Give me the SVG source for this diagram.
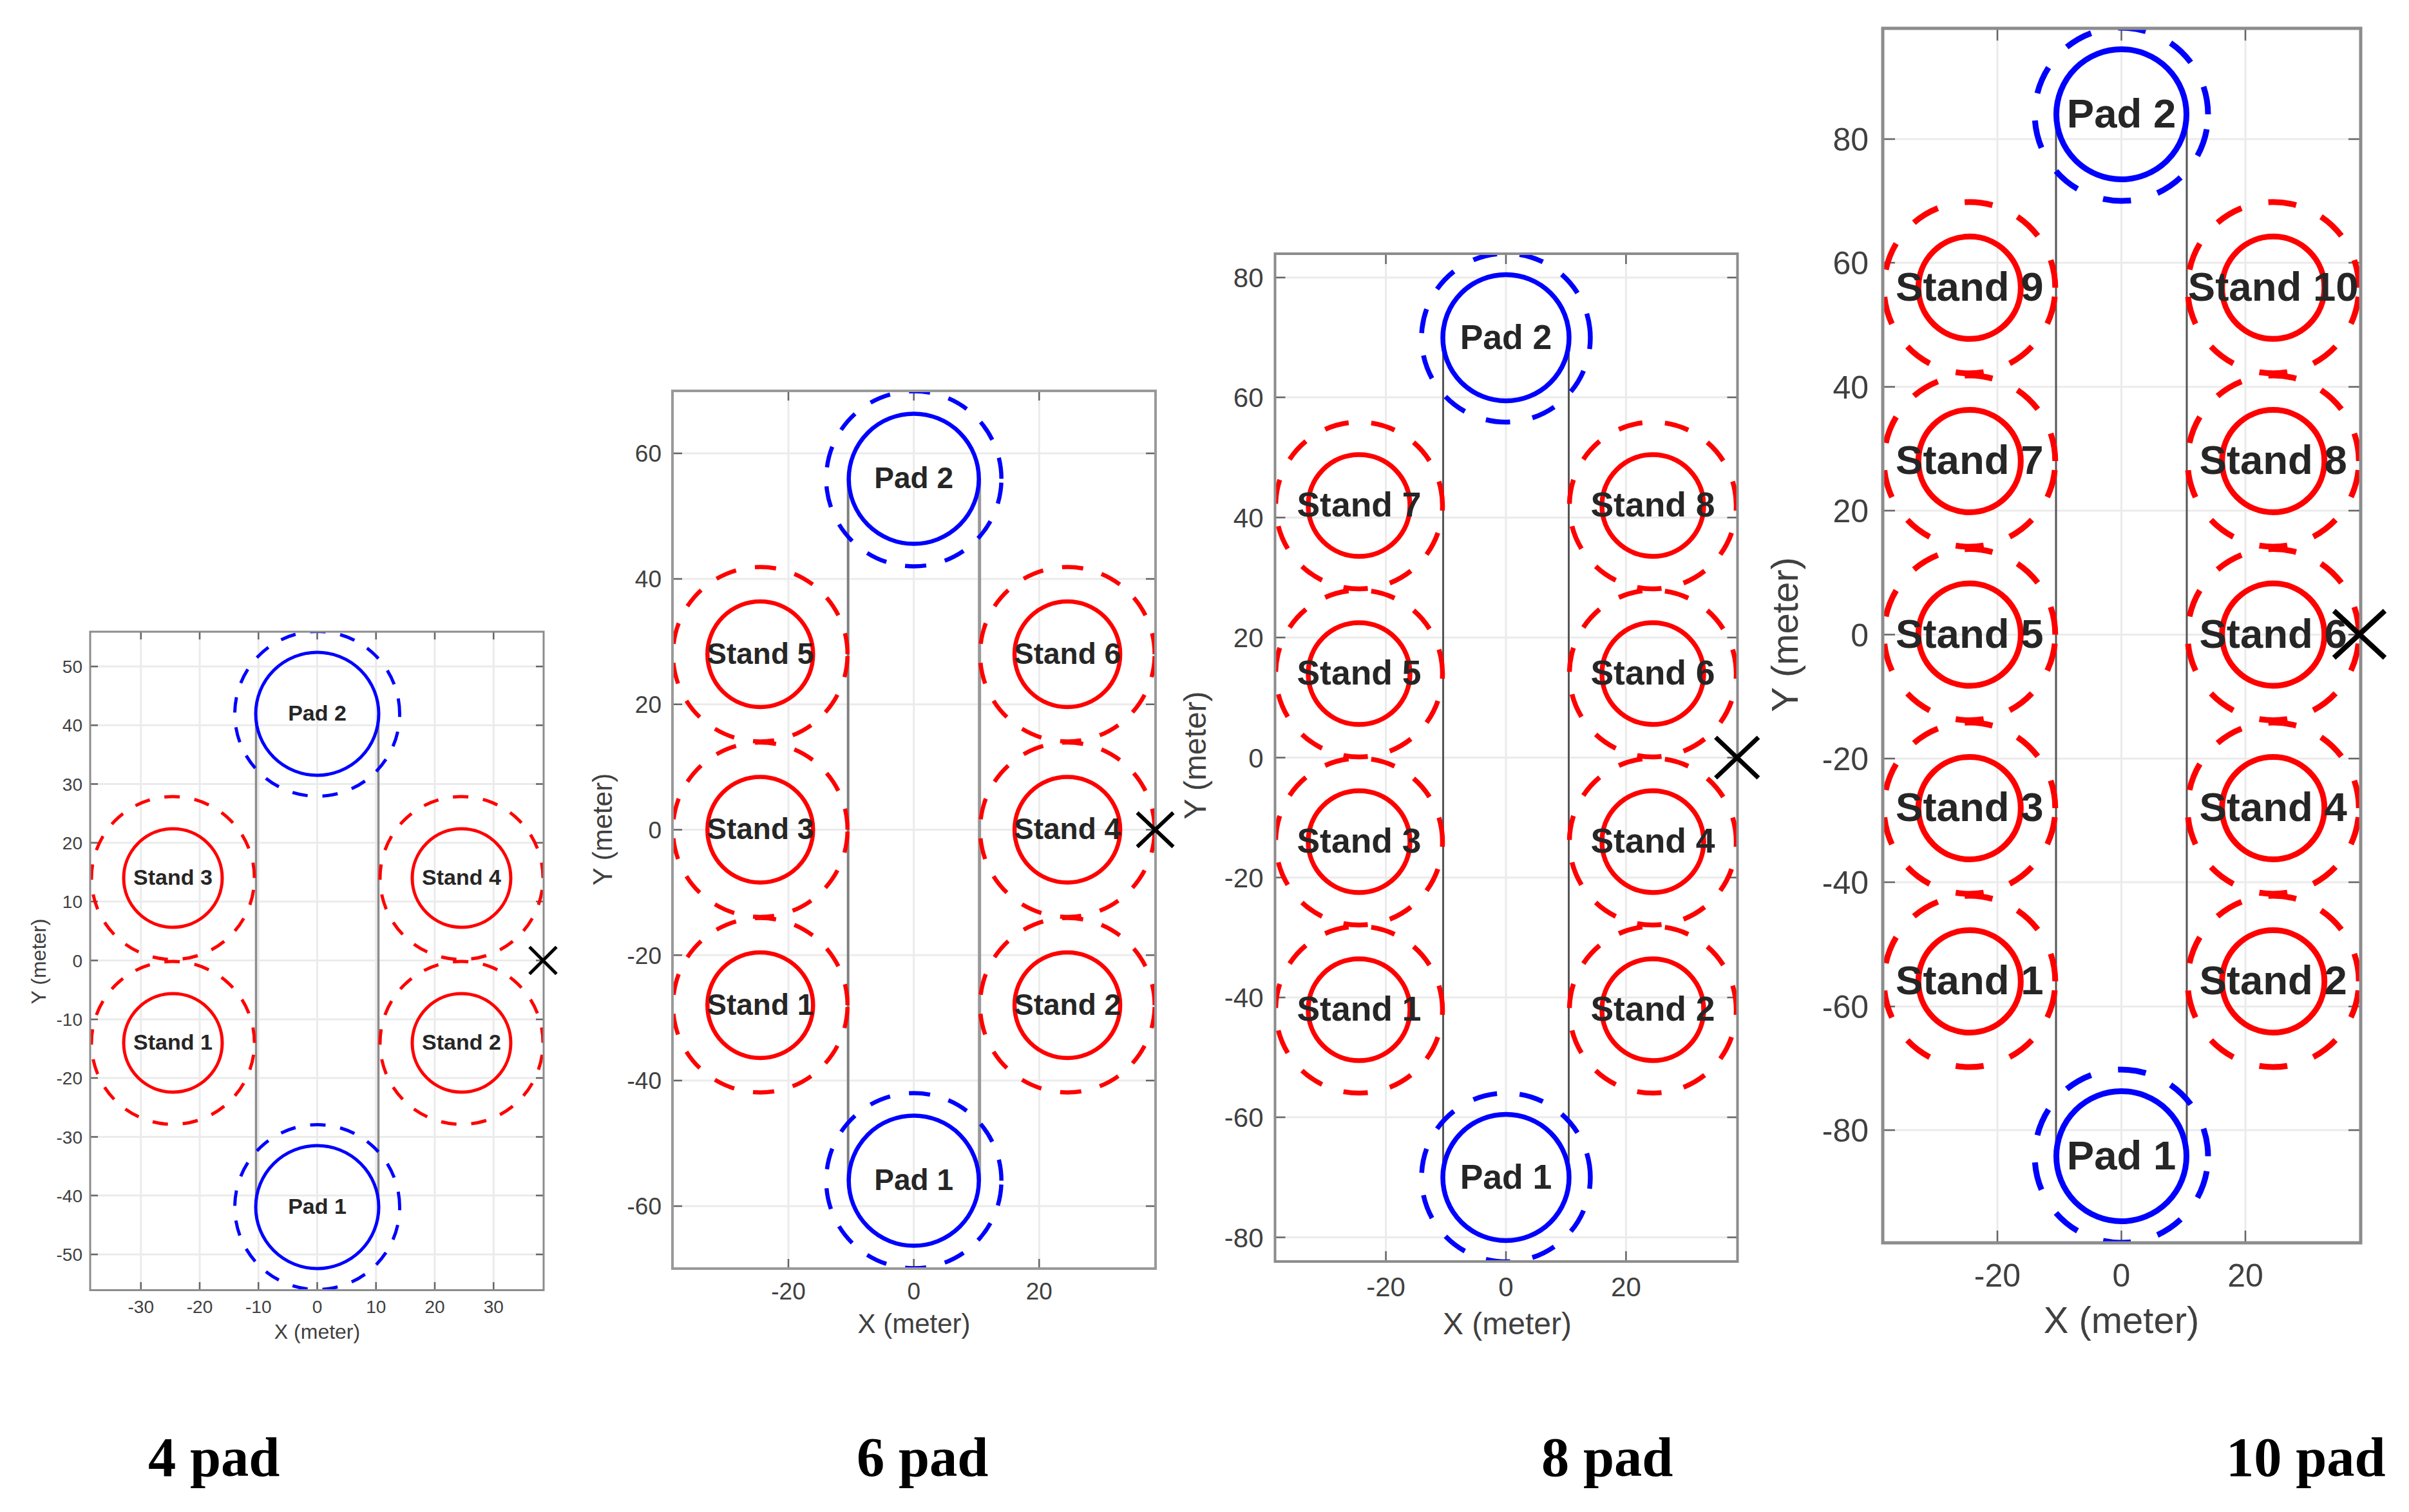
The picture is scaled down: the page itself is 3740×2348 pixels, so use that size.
<svg xmlns="http://www.w3.org/2000/svg" width="3740" height="2348" viewBox="0 0 3740 2348">
<style>
text{font-family:"Liberation Sans",Arial,sans-serif;fill:#404040}
.n{font-weight:700;fill:#262626;text-anchor:middle;transform:translateY(-.04em)}
.ty{text-anchor:end}.tx,.al{text-anchor:middle}
.cap{font-family:"Liberation Serif","Times New Roman",serif;font-weight:700;font-size:86.5px;fill:#000}
.grid{fill:none;stroke:#ebebeb;stroke-width:3}
.tick{fill:none;stroke:#666;stroke-width:2.5}
.box{fill:none;stroke:#8c8c8c;stroke-width:4}
.cor{fill:none;stroke:#555;stroke-width:3}
.ri,.ro{fill:none}
.ro{transform-box:fill-box;transform-origin:center;transform:scaleY(-1)}
.r{stroke:#f00}.b{stroke:#00f}
.x{fill:none;stroke:#000}
.p1 .n{font-size:34px}.p1 .tx,.p1 .ty{font-size:28px}.p1 .al{font-size:32px}.p1 circle{stroke-width:5}.p1 .ro{stroke-dasharray:24 23}.p1 .cor{stroke:#8c8c8c;stroke-width:3.5}.p1 .box{stroke-width:3}
.p2 .n{font-size:46px}.p2 .tx,.p2 .ty{font-size:37px}.p2 .al{font-size:42px}.p2 circle{stroke-width:6.5}.p2 .ro{stroke-dasharray:33 29.7}.p2 .cor{stroke:#808080;stroke-width:4}.p2 .box{stroke:#999}
.p3 .n{font-size:53.5px}.p3 .tx,.p3 .ty{font-size:42px}.p3 .al{font-size:48px}.p3 circle{stroke-width:7.5}.p3 .ro{stroke-dasharray:38 35.2}
.p4 .n{font-size:63.5px}.p4 .tx,.p4 .ty{font-size:50px}.p4 .al{font-size:58px}.p4 circle{stroke-width:9}.p4 .ro{stroke-dasharray:43.7 42.7}.p4 .box{stroke-width:5}
</style>
<defs>
<clipPath id="c1"><rect x="140" y="981" width="704" height="1022.5"/></clipPath>
<clipPath id="c2"><rect x="1044" y="607" width="750" height="1363"/></clipPath>
<clipPath id="c3"><rect x="1979.5" y="394" width="718" height="1565"/></clipPath>
<clipPath id="c4"><rect x="2923" y="44" width="742" height="1886"/></clipPath>
</defs>

<g id="panel-4-pad" class="p1">
<path class="grid" d="M218.75 981V2003M310 981V2003M401.25 981V2003M492.5 981V2003M583.75 981V2003M675 981V2003M766.25 981V2003M140 1035H844M140 1126.25H844M140 1217.5H844M140 1308.75H844M140 1400H844M140 1491.5H844M140 1583H844M140 1674H844M140 1765.5H844M140 1856.5H844M140 1948H844"/>
<path class="tick" d="M218.75 2003v-12M310 2003v-12M401.25 2003v-12M492.5 2003v-12M583.75 2003v-12M675 2003v-12M766.25 2003v-12M218.75 981v12M310 981v12M401.25 981v12M492.5 981v12M583.75 981v12M675 981v12M766.25 981v12M140 1035h12M140 1126.25h12M140 1217.5h12M140 1308.75h12M140 1400h12M140 1491.5h12M140 1583h12M140 1674h12M140 1765.5h12M140 1856.5h12M140 1948h12M844 1035h-12M844 1126.25h-12M844 1217.5h-12M844 1308.75h-12M844 1400h-12M844 1491.5h-12M844 1583h-12M844 1674h-12M844 1765.5h-12M844 1856.5h-12M844 1948h-12"/>
<g id="p1-connectors"><path class="cor" d="M397.5 1108.5V1874.5M587.5 1108.5V1874.5"/></g>
<g clip-path="url(#c1)">
<g id="p1-pad-2"><circle class="ri b" cx="492.5" cy="1108.5" r="95.5"/><circle class="ro b" cx="492.5" cy="1108.5" r="128"/><text class="n" x="492.5" y="1108.5" dy=".36em">Pad 2</text></g>
<g id="p1-pad-1"><circle class="ri b" cx="492.5" cy="1874.5" r="95.5"/><circle class="ro b" cx="492.5" cy="1874.5" r="128"/><text class="n" x="492.5" y="1874.5" dy=".36em">Pad 1</text></g>
<g id="p1-stand-3"><circle class="ri r" cx="268.5" cy="1363.5" r="76.5"/><circle class="ro r" cx="268.5" cy="1363.5" r="126.5"/><text class="n" x="268.5" y="1363.5" dy=".36em">Stand 3</text></g>
<g id="p1-stand-4"><circle class="ri r" cx="716.5" cy="1363.5" r="76.5"/><circle class="ro r" cx="716.5" cy="1363.5" r="126.5"/><text class="n" x="716.5" y="1363.5" dy=".36em">Stand 4</text></g>
<g id="p1-stand-1"><circle class="ri r" cx="268.5" cy="1619.5" r="76.5"/><circle class="ro r" cx="268.5" cy="1619.5" r="126.5"/><text class="n" x="268.5" y="1619.5" dy=".36em">Stand 1</text></g>
<g id="p1-stand-2"><circle class="ri r" cx="716.5" cy="1619.5" r="76.5"/><circle class="ro r" cx="716.5" cy="1619.5" r="126.5"/><text class="n" x="716.5" y="1619.5" dy=".36em">Stand 2</text></g>
</g>
<rect class="box" x="140" y="981" width="704" height="1022.5"/>
<path id="p1-x" class="x" stroke-width="5" d="M822 1470.5L864 1512.5M822 1512.5L864 1470.5"/>
<g>
<text class="ty" x="128" y="1035" dy=".36em">50</text><text class="ty" x="128" y="1126.25" dy=".36em">40</text><text class="ty" x="128" y="1217.5" dy=".36em">30</text><text class="ty" x="128" y="1308.75" dy=".36em">20</text><text class="ty" x="128" y="1400" dy=".36em">10</text><text class="ty" x="128" y="1491.5" dy=".36em">0</text><text class="ty" x="128" y="1583" dy=".36em">-10</text><text class="ty" x="128" y="1674" dy=".36em">-20</text><text class="ty" x="128" y="1765.5" dy=".36em">-30</text><text class="ty" x="128" y="1856.5" dy=".36em">-40</text><text class="ty" x="128" y="1948" dy=".36em">-50</text>
<text class="tx" x="218.75" y="2028.5" dy=".36em">-30</text><text class="tx" x="310" y="2028.5" dy=".36em">-20</text><text class="tx" x="401.25" y="2028.5" dy=".36em">-10</text><text class="tx" x="492.5" y="2028.5" dy=".36em">0</text><text class="tx" x="583.75" y="2028.5" dy=".36em">10</text><text class="tx" x="675" y="2028.5" dy=".36em">20</text><text class="tx" x="766.25" y="2028.5" dy=".36em">30</text>
<text class="al" x="492.5" y="2067" dy=".36em">X (meter)</text>
<text class="al" transform="rotate(-90 59 1493)" x="59" y="1493" dy=".36em">Y (meter)</text>
</g>
</g>

<g id="panel-6-pad" class="p2">
<path class="grid" d="M1224 607V1970M1418.7 607V1970M1613.3 607V1970M1044 704H1794M1044 899H1794M1044 1093.7H1794M1044 1288.5H1794M1044 1483.3H1794M1044 1678H1794M1044 1873H1794"/>
<path class="tick" d="M1224 1970v-15M1418.7 1970v-15M1613.3 1970v-15M1224 607v15M1418.7 607v15M1613.3 607v15M1044 704h15M1044 899h15M1044 1093.7h15M1044 1288.5h15M1044 1483.3h15M1044 1678h15M1044 1873h15M1794 704h-15M1794 899h-15M1794 1093.7h-15M1794 1288.5h-15M1794 1483.3h-15M1794 1678h-15M1794 1873h-15"/>
<g id="p2-connectors"><path class="cor" d="M1316.7 743.5V1833.5"/><path class="cor" style="stroke:#999;stroke-width:5" d="M1520.7 743.5V1833.5"/></g>
<g clip-path="url(#c2)">
<g id="p2-pad-2"><circle class="ri b" cx="1418.7" cy="743.5" r="101"/><circle class="ro b" cx="1418.7" cy="743.5" r="136"/><text class="n" x="1418.7" y="743.5" dy=".36em">Pad 2</text></g>
<g id="p2-pad-1"><circle class="ri b" cx="1418.7" cy="1833.5" r="101"/><circle class="ro b" cx="1418.7" cy="1833.5" r="136"/><text class="n" x="1418.7" y="1833.5" dy=".36em">Pad 1</text></g>
<g id="p2-stand-5"><circle class="ri r" cx="1180.3" cy="1016" r="82"/><circle class="ro r" cx="1180.3" cy="1016" r="135.5"/><text class="n" x="1180.3" y="1016" dy=".36em">Stand 5</text></g>
<g id="p2-stand-6"><circle class="ri r" cx="1657.1" cy="1016" r="82"/><circle class="ro r" cx="1657.1" cy="1016" r="135.5"/><text class="n" x="1657.1" y="1016" dy=".36em">Stand 6</text></g>
<g id="p2-stand-3"><circle class="ri r" cx="1180.3" cy="1288.5" r="82"/><circle class="ro r" cx="1180.3" cy="1288.5" r="135.5"/><text class="n" x="1180.3" y="1288.5" dy=".36em">Stand 3</text></g>
<g id="p2-stand-4"><circle class="ri r" cx="1657.1" cy="1288.5" r="82"/><circle class="ro r" cx="1657.1" cy="1288.5" r="135.5"/><text class="n" x="1657.1" y="1288.5" dy=".36em">Stand 4</text></g>
<g id="p2-stand-1"><circle class="ri r" cx="1180.3" cy="1561" r="82"/><circle class="ro r" cx="1180.3" cy="1561" r="135.5"/><text class="n" x="1180.3" y="1561" dy=".36em">Stand 1</text></g>
<g id="p2-stand-2"><circle class="ri r" cx="1657.1" cy="1561" r="82"/><circle class="ro r" cx="1657.1" cy="1561" r="135.5"/><text class="n" x="1657.1" y="1561" dy=".36em">Stand 2</text></g>
</g>
<rect class="box" x="1044" y="607" width="750" height="1363"/>
<path id="p2-x" class="x" stroke-width="6" d="M1765.5 1262L1821.5 1315M1765.5 1315L1821.5 1262"/>
<g>
<text class="ty" x="1027" y="704" dy=".36em">60</text><text class="ty" x="1027" y="899" dy=".36em">40</text><text class="ty" x="1027" y="1093.7" dy=".36em">20</text><text class="ty" x="1027" y="1288.5" dy=".36em">0</text><text class="ty" x="1027" y="1483.3" dy=".36em">-20</text><text class="ty" x="1027" y="1678" dy=".36em">-40</text><text class="ty" x="1027" y="1873" dy=".36em">-60</text>
<text class="tx" x="1224" y="2005" dy=".36em">-20</text><text class="tx" x="1418.7" y="2005" dy=".36em">0</text><text class="tx" x="1613.3" y="2005" dy=".36em">20</text>
<text class="al" x="1419" y="2055" dy=".36em">X (meter)</text>
<text class="al" transform="rotate(-90 935 1288)" x="935" y="1288" dy=".36em">Y (meter)</text>
</g>
</g>

<g id="panel-8-pad" class="p3">
<path class="grid" d="M2151.6 394V1959M2338 394V1959M2524.4 394V1959M1979.5 431H2697.5M1979.5 617H2697.5M1979.5 803.7H2697.5M1979.5 990H2697.5M1979.5 1176.5H2697.5M1979.5 1362.7H2697.5M1979.5 1549H2697.5M1979.5 1735H2697.5M1979.5 1921.6H2697.5"/>
<path class="tick" d="M2151.6 1959v-16M2338 1959v-16M2524.4 1959v-16M2151.6 394v16M2338 394v16M2524.4 394v16M1979.5 431h16M1979.5 617h16M1979.5 803.7h16M1979.5 990h16M1979.5 1176.5h16M1979.5 1362.7h16M1979.5 1549h16M1979.5 1735h16M1979.5 1921.6h16M2697.5 431h-16M2697.5 617h-16M2697.5 803.7h-16M2697.5 990h-16M2697.5 1176.5h-16M2697.5 1362.7h-16M2697.5 1549h-16M2697.5 1735h-16M2697.5 1921.6h-16"/>
<g id="p3-connectors"><path class="cor" d="M2240.5 524.5V1828.5M2435.5 524.5V1828.5"/></g>
<g clip-path="url(#c3)">
<g id="p3-pad-2"><circle class="ri b" cx="2338" cy="524.5" r="98"/><circle class="ro b" cx="2338" cy="524.5" r="131"/><text class="n" x="2338" y="524.5" dy=".36em">Pad 2</text></g>
<g id="p3-pad-1"><circle class="ri b" cx="2338" cy="1828.5" r="98"/><circle class="ro b" cx="2338" cy="1828.5" r="131"/><text class="n" x="2338" y="1828.5" dy=".36em">Pad 1</text></g>
<g id="p3-stand-7"><circle class="ri r" cx="2110" cy="785" r="79"/><circle class="ro r" cx="2110" cy="785" r="129.5"/><text class="n" x="2110" y="785" dy=".36em">Stand 7</text></g>
<g id="p3-stand-8"><circle class="ri r" cx="2566" cy="785" r="79"/><circle class="ro r" cx="2566" cy="785" r="129.5"/><text class="n" x="2566" y="785" dy=".36em">Stand 8</text></g>
<g id="p3-stand-5"><circle class="ri r" cx="2110" cy="1046" r="79"/><circle class="ro r" cx="2110" cy="1046" r="129.5"/><text class="n" x="2110" y="1046" dy=".36em">Stand 5</text></g>
<g id="p3-stand-6"><circle class="ri r" cx="2566" cy="1046" r="79"/><circle class="ro r" cx="2566" cy="1046" r="129.5"/><text class="n" x="2566" y="1046" dy=".36em">Stand 6</text></g>
<g id="p3-stand-3"><circle class="ri r" cx="2110" cy="1307" r="79"/><circle class="ro r" cx="2110" cy="1307" r="129.5"/><text class="n" x="2110" y="1307" dy=".36em">Stand 3</text></g>
<g id="p3-stand-4"><circle class="ri r" cx="2566" cy="1307" r="79"/><circle class="ro r" cx="2566" cy="1307" r="129.5"/><text class="n" x="2566" y="1307" dy=".36em">Stand 4</text></g>
<g id="p3-stand-1"><circle class="ri r" cx="2110" cy="1568" r="79"/><circle class="ro r" cx="2110" cy="1568" r="129.5"/><text class="n" x="2110" y="1568" dy=".36em">Stand 1</text></g>
<g id="p3-stand-2"><circle class="ri r" cx="2566" cy="1568" r="79"/><circle class="ro r" cx="2566" cy="1568" r="129.5"/><text class="n" x="2566" y="1568" dy=".36em">Stand 2</text></g>
</g>
<rect class="box" x="1979.5" y="394" width="718" height="1565"/>
<path id="p3-x" class="x" stroke-width="7" d="M2663.5 1145L2730 1208M2663.5 1208L2730 1145"/>
<g>
<text class="ty" x="1961.5" y="431" dy=".36em">80</text><text class="ty" x="1961.5" y="617" dy=".36em">60</text><text class="ty" x="1961.5" y="803.7" dy=".36em">40</text><text class="ty" x="1961.5" y="990" dy=".36em">20</text><text class="ty" x="1961.5" y="1176.5" dy=".36em">0</text><text class="ty" x="1961.5" y="1362.7" dy=".36em">-20</text><text class="ty" x="1961.5" y="1549" dy=".36em">-40</text><text class="ty" x="1961.5" y="1735" dy=".36em">-60</text><text class="ty" x="1961.5" y="1921.6" dy=".36em">-80</text>
<text class="tx" x="2151.6" y="1998" dy=".36em">-20</text><text class="tx" x="2338" y="1998" dy=".36em">0</text><text class="tx" x="2524.4" y="1998" dy=".36em">20</text>
<text class="al" x="2340" y="2055" dy=".36em">X (meter)</text>
<text class="al" transform="rotate(-90 1855 1173)" x="1855" y="1173" dy=".36em">Y (meter)</text>
</g>
</g>

<g id="panel-10-pad" class="p4">
<path class="grid" d="M3101 44V1930M3293.5 44V1930M3486 44V1930M2923 216H3665M2923 408H3665M2923 600.7H3665M2923 793H3665M2923 985.5H3665M2923 1178H3665M2923 1370H3665M2923 1563H3665M2923 1755H3665"/>
<path class="tick" d="M3101 1930v-19M3293.5 1930v-19M3486 1930v-19M3101 44v19M3293.5 44v19M3486 44v19M2923 216h19M2923 408h19M2923 600.7h19M2923 793h19M2923 985.5h19M2923 1178h19M2923 1370h19M2923 1563h19M2923 1755h19M3665 216h-19M3665 408h-19M3665 600.7h-19M3665 793h-19M3665 985.5h-19M3665 1178h-19M3665 1370h-19M3665 1563h-19M3665 1755h-19"/>
<g id="p4-connectors"><path class="cor" d="M3192 177.5V1795.5M3395 177.5V1795.5"/></g>
<g clip-path="url(#c4)">
<g id="p4-pad-2"><circle class="ri b" cx="3293.5" cy="177.5" r="101"/><circle class="ro b" cx="3293.5" cy="177.5" r="134.5"/><text class="n" x="3293.5" y="177.5" dy=".36em">Pad 2</text></g>
<g id="p4-pad-1"><circle class="ri b" cx="3293.5" cy="1795.5" r="101"/><circle class="ro b" cx="3293.5" cy="1795.5" r="134.5"/><text class="n" x="3293.5" y="1795.5" dy=".36em">Pad 1</text></g>
<g id="p4-stand-9"><circle class="ri r" cx="3057.8" cy="446.8" r="79.5"/><circle class="ro r" cx="3057.8" cy="446.8" r="133"/><text class="n" x="3057.8" y="446.8" dy=".36em">Stand 9</text></g>
<g id="p4-stand-10"><circle class="ri r" cx="3529.2" cy="446.8" r="79.5"/><circle class="ro r" cx="3529.2" cy="446.8" r="133"/><text class="n" x="3529.2" y="446.8" dy=".36em">Stand 10</text></g>
<g id="p4-stand-7"><circle class="ri r" cx="3057.8" cy="716" r="79.5"/><circle class="ro r" cx="3057.8" cy="716" r="133"/><text class="n" x="3057.8" y="716" dy=".36em">Stand 7</text></g>
<g id="p4-stand-8"><circle class="ri r" cx="3529.2" cy="716" r="79.5"/><circle class="ro r" cx="3529.2" cy="716" r="133"/><text class="n" x="3529.2" y="716" dy=".36em">Stand 8</text></g>
<g id="p4-stand-5"><circle class="ri r" cx="3057.8" cy="985.5" r="79.5"/><circle class="ro r" cx="3057.8" cy="985.5" r="133"/><text class="n" x="3057.8" y="985.5" dy=".36em">Stand 5</text></g>
<g id="p4-stand-6"><circle class="ri r" cx="3529.2" cy="985.5" r="79.5"/><circle class="ro r" cx="3529.2" cy="985.5" r="133"/><text class="n" x="3529.2" y="985.5" dy=".36em">Stand 6</text></g>
<g id="p4-stand-3"><circle class="ri r" cx="3057.8" cy="1255" r="79.5"/><circle class="ro r" cx="3057.8" cy="1255" r="133"/><text class="n" x="3057.8" y="1255" dy=".36em">Stand 3</text></g>
<g id="p4-stand-4"><circle class="ri r" cx="3529.2" cy="1255" r="79.5"/><circle class="ro r" cx="3529.2" cy="1255" r="133"/><text class="n" x="3529.2" y="1255" dy=".36em">Stand 4</text></g>
<g id="p4-stand-1"><circle class="ri r" cx="3057.8" cy="1524" r="79.5"/><circle class="ro r" cx="3057.8" cy="1524" r="133"/><text class="n" x="3057.8" y="1524" dy=".36em">Stand 1</text></g>
<g id="p4-stand-2"><circle class="ri r" cx="3529.2" cy="1524" r="79.5"/><circle class="ro r" cx="3529.2" cy="1524" r="133"/><text class="n" x="3529.2" y="1524" dy=".36em">Stand 2</text></g>
</g>
<rect class="box" x="2923" y="44" width="742" height="1886"/>
<path id="p4-x" class="x" stroke-width="8" d="M3623.5 948.5L3702.5 1021.5M3623.5 1021.5L3702.5 948.5"/>
<g>
<text class="ty" x="2901" y="216" dy=".36em">80</text><text class="ty" x="2901" y="408" dy=".36em">60</text><text class="ty" x="2901" y="600.7" dy=".36em">40</text><text class="ty" x="2901" y="793" dy=".36em">20</text><text class="ty" x="2901" y="985.5" dy=".36em">0</text><text class="ty" x="2901" y="1178" dy=".36em">-20</text><text class="ty" x="2901" y="1370" dy=".36em">-40</text><text class="ty" x="2901" y="1563" dy=".36em">-60</text><text class="ty" x="2901" y="1755" dy=".36em">-80</text>
<text class="tx" x="3101" y="1980" dy=".36em">-20</text><text class="tx" x="3293.5" y="1980" dy=".36em">0</text><text class="tx" x="3486" y="1980" dy=".36em">20</text>
<text class="al" x="3293.5" y="2049" dy=".36em">X (meter)</text>
<text class="al" transform="rotate(-90 2770 985.5)" x="2770" y="985.5" dy=".36em">Y (meter)</text>
</g>
</g>

<g id="captions">
<text class="cap" x="230" y="2292">4 pad</text>
<text class="cap" x="1330" y="2292">6 pad</text>
<text class="cap" x="2393" y="2292">8 pad</text>
<text class="cap" x="3456" y="2292">10 pad</text>
</g>
</svg>
